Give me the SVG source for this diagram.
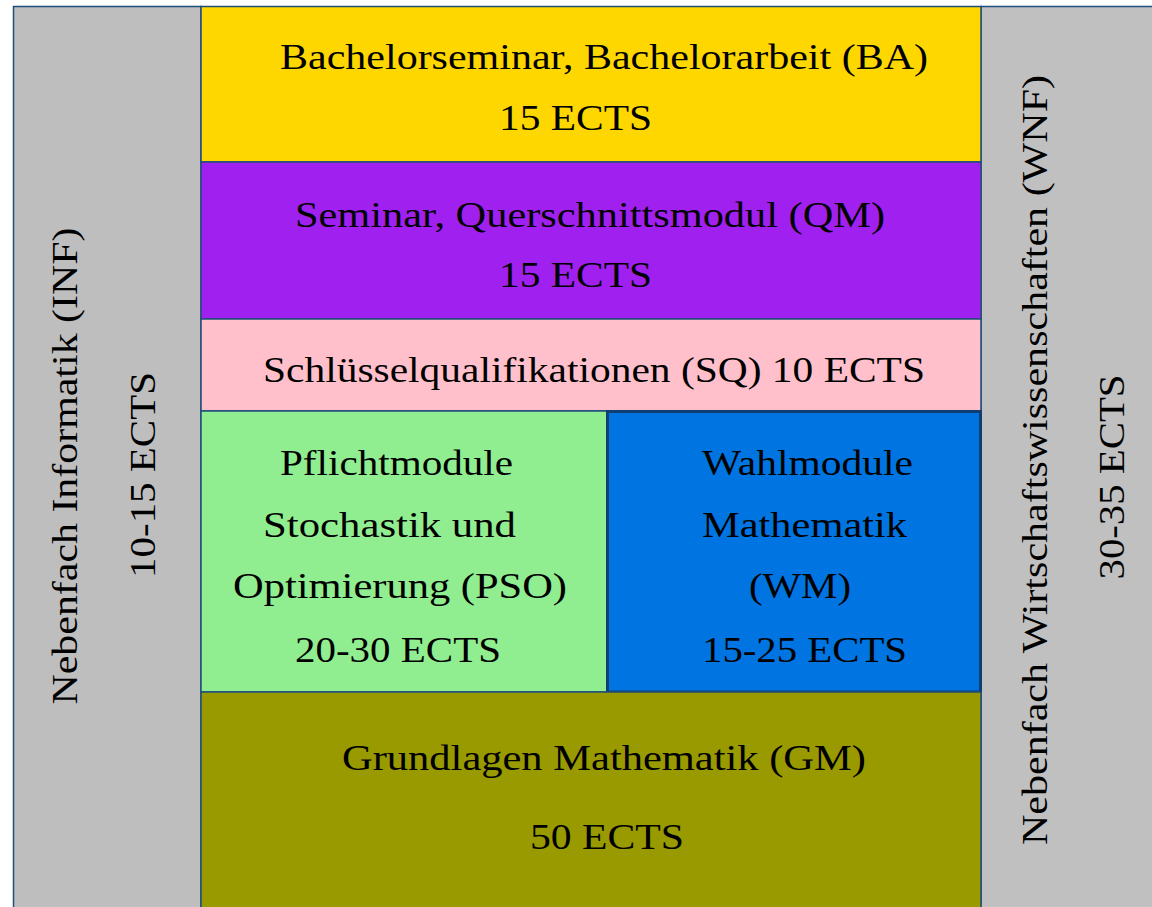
<svg xmlns="http://www.w3.org/2000/svg" width="1152" height="907" viewBox="0 0 1152 907">
<style>
.box{stroke:#1f4e79;stroke-width:1.5}
.t{font-family:"Liberation Serif","Times New Roman",serif;font-size:36px;fill:#000}
</style>
<rect width="1152" height="907" fill="#ffffff"/>
<g id="inf">
<rect class="box" x="13.5" y="6.5" width="187.5" height="910" fill="#bebebe"/>
<text class="t" transform="translate(77,466) rotate(-90)" text-anchor="middle" textLength="477" lengthAdjust="spacingAndGlyphs">Nebenfach Informatik (INF)</text>
<text class="t" transform="translate(155,475) rotate(-90)" text-anchor="middle" textLength="206" lengthAdjust="spacingAndGlyphs">10-15 ECTS</text>
</g>
<g id="wnf">
<rect class="box" x="981" y="6.5" width="180" height="910" fill="#c0c0c0"/>
<text class="t" transform="translate(1047,460) rotate(-90)" text-anchor="middle" textLength="770" lengthAdjust="spacingAndGlyphs">Nebenfach Wirtschaftswissenschaften (WNF)</text>
<text class="t" transform="translate(1124,477) rotate(-90)" text-anchor="middle" textLength="205" lengthAdjust="spacingAndGlyphs">30-35 ECTS</text>
</g>
<g id="ba">
<rect class="box" x="201" y="6.5" width="780" height="155.5" fill="#ffd700"/>
<text class="t" x="604" y="69" text-anchor="middle" textLength="648" lengthAdjust="spacingAndGlyphs">Bachelorseminar, Bachelorarbeit (BA)</text>
<text class="t" x="575.5" y="130" text-anchor="middle" textLength="153" lengthAdjust="spacingAndGlyphs">15 ECTS</text>
</g>
<g id="qm">
<rect class="box" x="201" y="162" width="780" height="157" fill="#a020f0"/>
<text class="t" x="590" y="227" text-anchor="middle" textLength="590" lengthAdjust="spacingAndGlyphs">Seminar, Querschnittsmodul (QM)</text>
<text class="t" x="575.5" y="287" text-anchor="middle" textLength="153" lengthAdjust="spacingAndGlyphs">15 ECTS</text>
</g>
<g id="sq">
<rect class="box" x="201" y="319" width="780" height="92" fill="#ffc0cb"/>
<text class="t" x="594" y="382" text-anchor="middle" textLength="662" lengthAdjust="spacingAndGlyphs">Schlüsselqualifikationen (SQ) 10 ECTS</text>
</g>
<g id="pso">
<rect class="box" x="201" y="411" width="406" height="281" fill="#90ee90"/>
<text class="t" x="396.5" y="475" text-anchor="middle" textLength="233" lengthAdjust="spacingAndGlyphs">Pflichtmodule</text>
<text class="t" x="389.5" y="537" text-anchor="middle" textLength="253" lengthAdjust="spacingAndGlyphs">Stochastik und</text>
<text class="t" x="400" y="598" text-anchor="middle" textLength="334" lengthAdjust="spacingAndGlyphs">Optimierung (PSO)</text>
<text class="t" x="398" y="662" text-anchor="middle" textLength="206" lengthAdjust="spacingAndGlyphs">20-30 ECTS</text>
</g>
<g id="wm">
<rect x="607.5" y="411.5" width="373" height="280.5" fill="#0074e0" stroke="#0e3f73" stroke-width="3"/>
<text class="t" x="807.5" y="475" text-anchor="middle" textLength="211" lengthAdjust="spacingAndGlyphs">Wahlmodule</text>
<text class="t" x="804.5" y="537" text-anchor="middle" textLength="205" lengthAdjust="spacingAndGlyphs">Mathematik</text>
<text class="t" x="800" y="598" text-anchor="middle" textLength="102" lengthAdjust="spacingAndGlyphs">(WM)</text>
<text class="t" x="804.5" y="662" text-anchor="middle" textLength="205" lengthAdjust="spacingAndGlyphs">15-25 ECTS</text>
</g>
<g id="gm">
<rect class="box" x="201" y="692" width="780" height="225" fill="#999900"/>
<text class="t" x="604" y="770" text-anchor="middle" textLength="524" lengthAdjust="spacingAndGlyphs">Grundlagen Mathematik (GM)</text>
<text class="t" x="607" y="849" text-anchor="middle" textLength="154" lengthAdjust="spacingAndGlyphs">50 ECTS</text>
</g>
<g id="connectors"/>
</svg>
